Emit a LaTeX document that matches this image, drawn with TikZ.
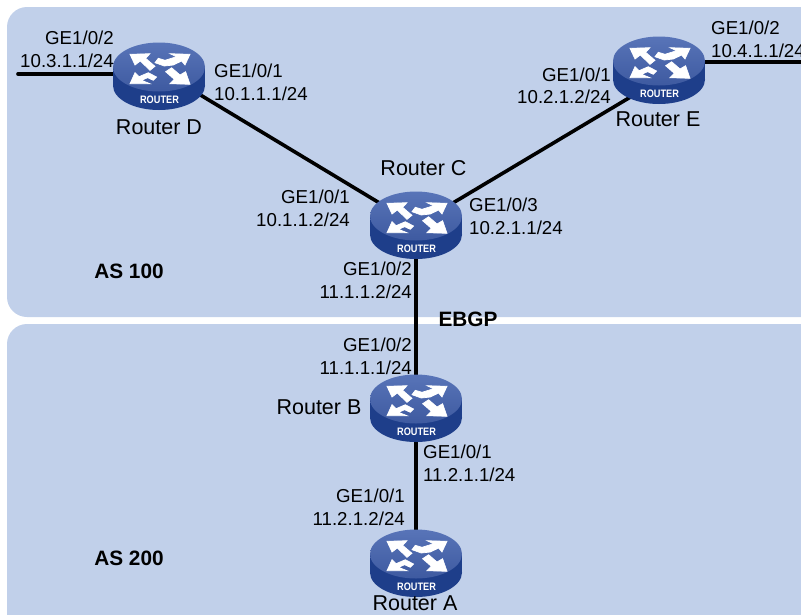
\documentclass[tikz,border=0pt]{standalone}
\usepackage{fontspec}
\setmainfont{Liberation Sans}
\usepackage{tikz}
\usetikzlibrary{calc,positioning}
\definecolor{panelblue}{RGB}{193,208,234}
\definecolor{routertop}{RGB}{88,116,184}
\definecolor{routermid}{RGB}{62,90,160}
\definecolor{routerside}{RGB}{30,62,138}
\tikzset{
  linkline/.style={line width=3.6pt,black},
  portlabel/.style={font=\fontsize{18.7}{22.5}\selectfont,inner sep=0pt},
  namelabel/.style={font=\fontsize{21.5}{24}\selectfont,inner sep=0pt},
  aslabel/.style={font=\fontsize{20.8}{24}\selectfont\bfseries,inner sep=0pt},
  routerdot/.style={inner sep=0pt,minimum size=1pt},
  arrowshape/.style={fill=white,draw=white,line width=0.7pt},
  pics/routericon/.style={code={
    \fill[routerside] (0,16.5) ellipse (46 and 24.5);
    \fill[routerside] (-46,-2) rectangle (46,16.5);
    \shade[top color=routertop,bottom color=routermid] (0,-2) ellipse (46 and 24.5);
    % four arrows
    \begin{scope}[shift={(-0.7,-1)}]
    \path[arrowshape] (-28.3,-13.7) -- (-8.3,-14.3) -- (-12.7,-9.7) -- (-3.3,-1.7) -- (-8.3,2.3) -- (-18,-7) -- (-23.3,-3) -- cycle;
    \path[arrowshape] (31.7,-13.7) -- (26.7,-3) -- (23.3,-7) -- (15,-3) -- (6,-2) -- (-3.3,-5.3) -- (0,-9.7) -- (6.7,-7.7) -- (18.3,-11.3) -- (11.7,-14.3) -- cycle;
    \path[arrowshape] (-28.3,15.7) -- (-23.3,4.7) -- (-19.3,8.7) -- (-10,4.7) -- (-1.7,9) -- (-5,12.3) -- (-10.7,9.7) -- (-16.7,12.3) -- (-8.3,15.7) -- cycle;
    \path[arrowshape] (31.7,16.3) -- (11.7,15.7) -- (16,11.3) -- (7.3,3.7) -- (13.3,-0.3) -- (21.7,7) -- (27.3,3.7) -- cycle;
    \end{scope}
    \node[white,font=\fontsize{10.8}{11}\selectfont\bfseries,inner sep=0pt,transform shape,xscale=0.85] at (0.5,31) {ROUTER};
  }}
}
\begin{document}
\begin{tikzpicture}[x=1pt,y=-1pt]
\useasboundingbox (0,0) rectangle (801,614);
% two areas
\fill[panelblue,rounded corners=20pt] (7,7) rectangle (830,317);
\fill[panelblue,rounded corners=20pt] (7,324) rectangle (830,640);
% routers
\node[routerdot] (routerD) at (159,69) {};
\node[routerdot] (routerE) at (659,63) {};
\node[routerdot] (routerC) at (416,218) {};
\node[routerdot] (routerB) at (416,401) {};
\node[routerdot] (routerA) at (416,556) {};
\coordinate (stubD) at (18,74);
\coordinate (stubE) at (801,62);
% links
\draw[linkline] ($(routerD)+(0,1)$) -- ($(routerC)+(0,7)$);
\draw[linkline] ($(routerE)+(0,17)$) -- ($(routerC)+(0,7)$);
\draw[linkline] (routerC) -- (routerB);
\draw[linkline] (routerB) -- (routerA);
\draw[linkline,line cap=round] (stubD) -- (routerD |- stubD);
\draw[linkline] (stubE) -- (routerE |- stubE);
\foreach \r in {routerD,routerE,routerC,routerB,routerA}
  \pic at (\r) {routericon};
% names
\node[namelabel] (nameD) at (159,127) {Router D};
\node[namelabel] (nameE) at (658,119) {Router E};
\node[namelabel] (nameC) at (423.5,168.5) {Router C};
\node[namelabel] (nameB) at (319,407) {Router B};
\node[namelabel] (nameA) at (415,603) {Router A};
\node[aslabel] (as100) at (129,271) {AS 100};
\node[aslabel] (as200) at (129,558) {AS 200};
\node[aslabel] (ebgp) at (468,319) {EBGP};
% ports
\node[portlabel,align=right,anchor=east] (portD2) at (114,49.5) {GE1/0/2\\10.3.1.1/24};
\node[portlabel,align=left,anchor=west] (portD1) at (214,82.5) {GE1/0/1\\10.1.1.1/24};
\node[portlabel,align=right,anchor=east] (portE1) at (611,86) {GE1/0/1\\10.2.1.2/24};
\node[portlabel,align=left,anchor=west] (portE2) at (711,39.5) {GE1/0/2\\10.4.1.1/24};
\node[portlabel,align=right,anchor=east] (portC1) at (350,208.5) {GE1/0/1\\10.1.1.2/24};
\node[portlabel,align=left,anchor=west] (portC3) at (469,216.5) {GE1/0/3\\10.2.1.1/24};
\node[portlabel,align=right,anchor=east] (portC2) at (412,280.5) {GE1/0/2\\11.1.1.2/24};
\node[portlabel,align=right,anchor=east] (portB2) at (412,356.5) {GE1/0/2\\11.1.1.1/24};
\node[portlabel,align=left,anchor=west] (portB1) at (423,463.5) {GE1/0/1\\11.2.1.1/24};
\node[portlabel,align=right,anchor=east] (portA1) at (405,507.5) {GE1/0/1\\11.2.1.2/24};
\end{tikzpicture}
\end{document}
